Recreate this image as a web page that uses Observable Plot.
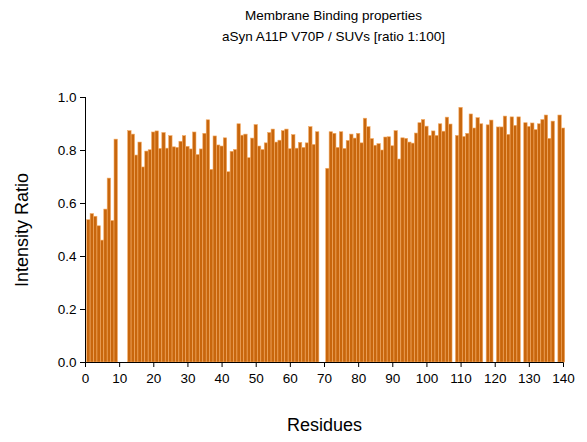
<!DOCTYPE html>
<html>
<head>
<meta charset="utf-8">
<script src="https://cdn.jsdelivr.net/npm/d3@7"></script>
<script src="https://cdn.jsdelivr.net/npm/@observablehq/plot@0.6"></script>
<style>
  body { margin: 0; background: #fff; font-family: "Liberation Sans", Arial, sans-serif; }
  #wrap { width: 587px; height: 442px; position: relative; }
  #title { height: 50px; box-sizing: border-box; padding-top: 5px; text-align: center; padding-left: 80px;
           font-size: 13.5px; line-height: 21px; color: #000; }
  svg { display: block; }
</style>
</head>
<body>
<div id="wrap">
  <div id="title"></div>
  <div id="chart"></div>
</div>
<script>
const titleLines = ["Membrane Binding properties", "aSyn A11P V70P / SUVs [ratio 1:100]"];
const xLabel = "Residues";
const yLabel = "Intensity Ratio";
const firstResidue = 1;
// Intensity ratio per residue (1..140); null = no data
const values = [
  0.537, 0.560, 0.550, 0.514, 0.460, 0.577, 0.694, 0.534, 0.841, null,
  null,  null,  0.873, 0.860, 0.781, 0.830, 0.736, 0.796, 0.801, 0.868,
  0.872, 0.806, 0.866, 0.807, 0.854, 0.812, 0.810, 0.833, 0.854, 0.814,
  0.804, 0.868, 0.783, 0.804, 0.863, 0.914, 0.727, 0.853, 0.819, 0.815,
  0.846, 0.718, 0.795, 0.802, 0.899, 0.856, 0.860, 0.771, 0.845, 0.896,
  0.815, 0.802, 0.827, 0.866, 0.879, 0.830, 0.837, 0.873, 0.879, 0.805,
  0.858, 0.807, 0.829, 0.810, 0.827, 0.888, 0.821, 0.869, null,  null,
  0.731, 0.869, 0.863, 0.810, 0.869, 0.806, 0.836, 0.860, 0.845, 0.863,
  0.827, 0.920, 0.888, 0.843, 0.818, 0.824, 0.800, 0.849, 0.850, 0.816,
  0.873, 0.766, 0.846, 0.844, 0.830, 0.826, 0.864, 0.903, 0.915, 0.890,
  0.855, 0.872, 0.855, 0.899, 0.871, 0.924, 0.898, null,  0.855, 0.961,
  0.851, 0.863, 0.936, 0.883, 0.922, 0.899, null,  0.895, 0.913, null,
  0.887, 0.887, 0.928, 0.859, 0.925, 0.893, 0.925, null,  0.903, 0.889,
  0.902, 0.877, 0.899, 0.915, 0.932, 0.844, 0.909, null,  0.932, 0.883
];
const xTicks = [0, 10, 20, 30, 40, 50, 60, 70, 80, 90, 100, 110, 120, 130, 140];
const yTicks = [0.0, 0.2, 0.4, 0.6, 0.8, 1.0];

document.getElementById("title").innerHTML = titleLines.join("<br>");

const data = values.map((v, i) => ({residue: firstResidue + i, ratio: v})).filter(d => d.ratio != null);

const chart = Plot.plot({
  width: 587,
  height: 392,
  marginTop: 47,
  marginBottom: 80,
  marginLeft: 85,
  marginRight: 24,
  style: {fontFamily: "Liberation Sans, Arial, sans-serif", fontSize: "13.5px", color: "#000", background: "#fff"},
  x: {domain: [0, 140], ticks: xTicks, tickSize: 5, tickPadding: 6, label: null},
  y: {domain: [0, 1], ticks: yTicks, tickSize: 5, tickPadding: 4, tickFormat: d3.format(".1f"), label: null},
  marks: [
    Plot.rectY(data, {x1: d => d.residue - 0.5, x2: d => d.residue + 0.5, y: "ratio", fill: "#c8660c", stroke: "#f4aa62", strokeWidth: 0.6}),
    Plot.ruleY([0], {stroke: "#000"}),
    Plot.ruleX([0], {stroke: "#000"}),
    Plot.text([xLabel], {text: d => d, frameAnchor: "bottom", textAnchor: "middle", dy: 68, fontSize: 18, fill: "#000"}),
    Plot.text([yLabel], {text: d => d, frameAnchor: "left", textAnchor: "middle", dx: -63, rotate: -90, fontSize: 18, fill: "#000"})
  ]
});
document.getElementById("chart").appendChild(chart);
</script>
</body>
</html>
